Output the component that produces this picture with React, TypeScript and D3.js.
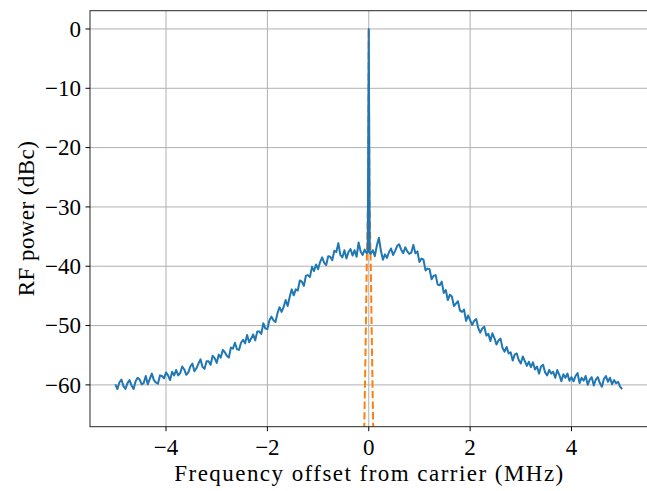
import React from "react";
import * as d3 from "d3";

// measured spectrum, left wing: -5.00 .. -0.04 MHz in 0.04 MHz steps
const leftPower = [
  -59.9, -60.7, -59.6, -59.1, -60.2, -60.7, -59.7, -59.2, -60.1, -60.7,
  -59.4, -58.8, -59.1, -59.9, -59.7, -58.5, -59.9, -59.0, -58.1, -59.2,
  -59.6, -59.8, -58.4, -58.5, -58.9, -57.9, -58.4, -59.2, -57.8, -58.4,
  -57.5, -58.4, -58.0, -56.9, -57.4, -58.3, -57.9, -56.9, -56.4, -57.7,
  -57.2, -56.4, -55.7, -57.0, -57.3, -56.0, -56.0, -56.6, -55.1, -55.5,
  -56.3, -54.9, -55.4, -54.1, -54.5, -55.1, -55.4, -53.7, -53.9, -52.9,
  -54.0, -54.1, -52.9, -52.4, -53.0, -51.6, -52.8, -52.2, -51.5, -52.5,
  -51.0, -51.0, -51.4, -49.6, -50.5, -50.6, -49.1, -48.5, -49.1, -49.4,
  -47.9, -46.9, -47.7, -46.9, -45.7, -46.7, -45.2, -43.9, -44.9, -43.9,
  -44.1, -42.4, -42.6, -43.3, -41.6, -41.5, -41.8, -40.1, -40.8, -39.7,
  -40.5, -39.3, -38.5, -39.4, -39.8, -38.3, -38.4, -39.0, -37.4, -37.6,
  -36.1, -38.1, -38.5, -37.3, -38.7, -37.6, -37.1, -38.2, -37.3, -38.4,
  -36.0, -37.5, -38.1, -37.2, -37.8,
];

// carrier spike
const spikeFreq = [-0.02, 0, 0.02];
const spikePower = [-37.6, 0, -37.7];

// right wing: 0.04 .. 5.00 MHz in 0.04 MHz steps
const rightPower = [
  -37.9, -37.3, -38.3, -36.5, -35.2, -37.4, -38.9, -38.0, -38.6, -37.6,
  -37.0, -38.1, -37.4, -36.6, -36.3, -37.2, -37.8, -36.8, -37.5, -37.9,
  -37.7, -36.4, -37.8, -37.5, -39.3, -38.7, -38.9, -40.7, -40.4, -40.5,
  -42.2, -41.6, -41.5, -43.1, -43.2, -42.6, -44.5, -44.0, -45.7, -44.8,
  -45.1, -46.7, -46.3, -45.9, -47.5, -47.7, -47.3, -49.2, -48.3, -49.1,
  -49.9, -49.2, -48.9, -50.4, -51.2, -50.5, -50.2, -51.7, -51.4, -52.6,
  -51.3, -52.1, -53.2, -52.5, -52.2, -53.8, -54.4, -53.6, -54.7, -54.5,
  -55.9, -54.9, -54.7, -55.8, -56.4, -55.2, -56.0, -56.8, -56.1, -57.0,
  -56.2, -57.4, -56.9, -58.1, -56.9, -56.6, -57.9, -58.4, -57.5, -58.1,
  -57.8, -58.8, -57.5, -58.3, -59.4, -58.2, -58.8, -58.1, -59.3, -58.7,
  -59.4, -58.5, -58.0, -59.7, -58.8, -59.3, -58.5, -60.0, -59.1, -58.7,
  -60.1, -59.1, -58.7, -59.7, -60.3, -59.0, -58.5, -59.5, -58.8, -59.9,
  -59.2, -59.7, -59.5, -60.3, -60.7,
];

// theoretical carrier line shape (orange, dashed)
const modelFreq = [-0.1, -0.088, -0.065, -0.04, -0.012, -0.005, 0, 0.005, 0.012, 0.04, 0.065, 0.088, 0.1];
const modelPower = [-73, -67, -55, -40, -28, -12, 0, -12, -28, -40, -55, -67, -73];

const xTicks = [-4, -2, 0, 2, 4];
const yTicks = [0, -10, -20, -30, -40, -50, -60];

const W = 647;
const H = 491;
const m = { left: 90, right: 0, top: 10.7, bottom: 64.3 };
const FONT = "'Liberation Serif', 'DejaVu Serif', serif";
const FS = 23;

const fmt = (v: number) => (v < 0 ? "\u2212" + Math.abs(v) : String(v));

export default function App() {
  const x = d3.scaleLinear().domain([-5.5, 5.5]).range([m.left, W - m.right + 0.5]);
  const y = d3.scaleLinear().domain([3.08, -67.05]).range([m.top, H - m.bottom]);

  const spectrum: [number, number][] = [
    ...leftPower.map((p, i) => [-5 + i * 0.04, p] as [number, number]),
    ...spikeFreq.map((f, i) => [f, spikePower[i]] as [number, number]),
    ...rightPower.map((p, i) => [0.04 + i * 0.04, p] as [number, number]),
  ];
  const model: [number, number][] = modelFreq.map((f, i) => [f, modelPower[i]]);

  const line = d3
    .line<[number, number]>()
    .x((d) => x(d[0]))
    .y((d) => y(d[1]));

  const [x0, x1] = x.range();
  const [y0, y1] = y.range();

  return (
    <svg
      width={W}
      height={H}
      style={{ position: "absolute", left: 0, top: 0, background: "#fff" }}
      fontFamily={FONT}
    >
      <defs>
        <clipPath id="plot">
          <rect x={x0} y={y0} width={x1 - x0} height={y1 - y0} />
        </clipPath>
      </defs>

      {/* grid */}
      <g stroke="#b0b0b0" strokeWidth={1}>
        {xTicks.map((t) => (
          <line key={"gx" + t} x1={x(t)} x2={x(t)} y1={y0} y2={y1} />
        ))}
        {yTicks.map((t) => (
          <line key={"gy" + t} x1={x0} x2={x1} y1={y(t)} y2={y(t)} />
        ))}
      </g>

      <g clipPath="url(#plot)">
        <path
          d={line(model) || ""}
          fill="none"
          stroke="#ff7f0e"
          strokeWidth={2}
          strokeDasharray="7.4 3.2"
        />
        <path
          d={line(spectrum) || ""}
          fill="none"
          stroke="#1f77b4"
          strokeWidth={2}
          strokeLinejoin="round"
        />
      </g>

      {/* frame */}
      <rect x={x0} y={y0} width={x1 - x0} height={y1 - y0} fill="none" stroke="#262626" strokeWidth={1} />

      {/* x axis */}
      <g fontSize={FS} textAnchor="middle" fill="#000">
        {xTicks.map((t) => (
          <g key={"xt" + t}>
            <line x1={x(t)} x2={x(t)} y1={y1} y2={y1 + 4.5} stroke="#000" strokeWidth={1} />
            <text x={x(t)} y={y1 + 28.5}>
              {fmt(t)}
            </text>
          </g>
        ))}
      </g>
      <text x={(x0 + x1) / 2} y={481} fontSize={FS} textAnchor="middle" textLength={389} lengthAdjust="spacing">
        Frequency offset from carrier (MHz)
      </text>

      {/* y axis */}
      <g fontSize={FS} textAnchor="end" fill="#000">
        {yTicks.map((t) => (
          <g key={"yt" + t}>
            <line x1={x0 - 4.5} x2={x0} y1={y(t)} y2={y(t)} stroke="#000" strokeWidth={1} />
            <text x={x0 - 9} y={y(t) + 7.8}>
              {fmt(t)}
            </text>
          </g>
        ))}
      </g>
      <text
        transform={`translate(34,${(y0 + y1) / 2}) rotate(-90)`}
        fontSize={FS}
        textAnchor="middle"
        textLength={155}
        lengthAdjust="spacing"
      >
        RF power (dBc)
      </text>
    </svg>
  );
}
